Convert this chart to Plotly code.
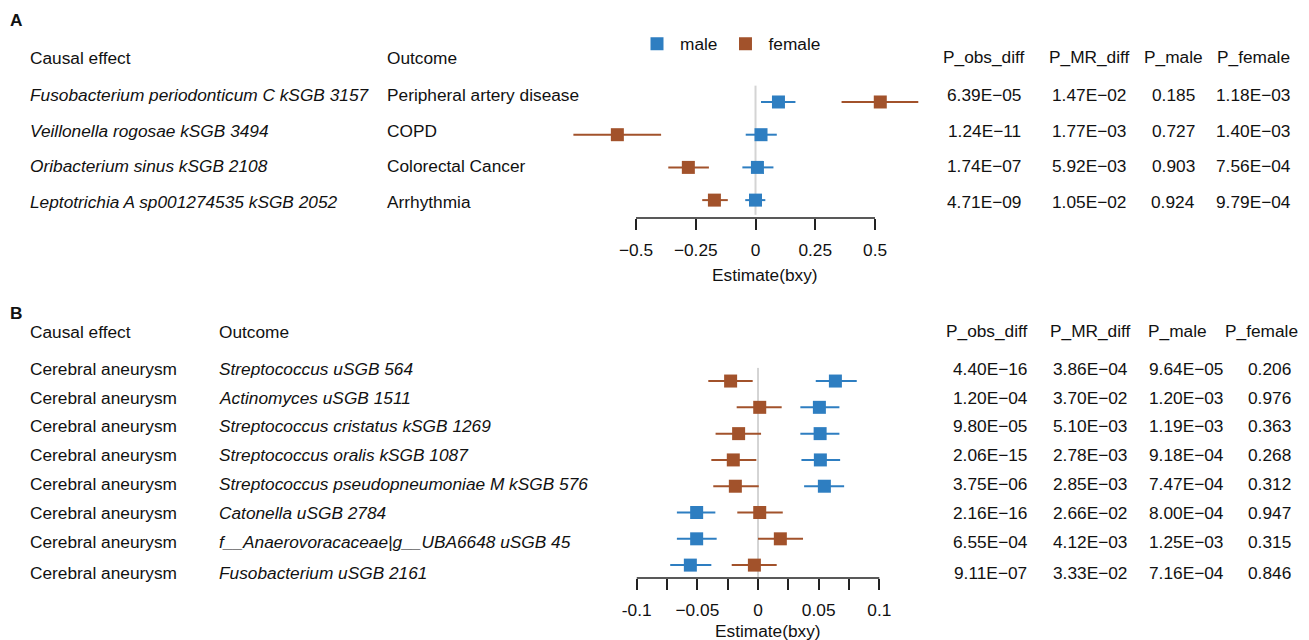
import plotly.graph_objects as go

# ---------------- Data: panel A ----------------
a_exposure = ["Fusobacterium periodonticum C kSGB 3157", "Veillonella rogosae kSGB 3494",
              "Oribacterium sinus kSGB 2108", "Leptotrichia A sp001274535 kSGB 2052"]
a_outcome = ["Peripheral artery disease", "COPD", "Colorectal Cancer", "Arrhythmia"]
a_male_est = [0.096, 0.023, 0.008, 0.000]
a_male_lo = [0.023, -0.041, -0.055, -0.043]
a_male_hi = [0.167, 0.089, 0.075, 0.041]
a_female_est = [0.522, -0.578, -0.281, -0.172]
a_female_lo = [0.360, -0.762, -0.365, -0.223]
a_female_hi = [0.681, -0.395, -0.195, -0.116]
a_p_obs_diff = ["6.39E−05", "1.24E−11", "1.74E−07", "4.71E−09"]
a_p_mr_diff = ["1.47E−02", "1.77E−03", "5.92E−03", "1.05E−02"]
a_p_male = ["0.185", "0.727", "0.903", "0.924"]
a_p_female = ["1.18E−03", "1.40E−03", "7.56E−04", "9.79E−04"]
a_tickvals = [-0.5, -0.25, 0, 0.25, 0.5]
a_ticktext = ["−0.5", "−0.25", "0", "0.25", "0.5"]

# ---------------- Data: panel B ----------------
b_exposure = ["Cerebral aneurysm"] * 8
b_outcome = ["Streptococcus uSGB 564", "Actinomyces uSGB 1511", "Streptococcus cristatus kSGB 1269",
             "Streptococcus oralis kSGB 1087", "Streptococcus pseudopneumoniae M kSGB 576",
             "Catonella uSGB 2784", "f__Anaerovoracaceae|g__UBA6648 uSGB 45", "Fusobacterium uSGB 2161"]
b_male_est = [0.0638, 0.0506, 0.0512, 0.0514, 0.0547, -0.0506, -0.0506, -0.0558]
b_male_lo = [0.0476, 0.0349, 0.0349, 0.0358, 0.0380, -0.0669, -0.0669, -0.0724]
b_male_hi = [0.0814, 0.0671, 0.0671, 0.0677, 0.0710, -0.0352, -0.0341, -0.0385]
b_female_est = [-0.0226, 0.0014, -0.0160, -0.0204, -0.0187, 0.0014, 0.0184, -0.0030]
b_female_lo = [-0.0410, -0.0176, -0.0350, -0.0385, -0.0369, -0.0171, 0.0000, -0.0217]
b_female_hi = [-0.0044, 0.0195, 0.0025, -0.0014, 0.0006, 0.0204, 0.0371, 0.0154]
b_p_obs_diff = ["4.40E−16", "1.20E−04", "9.80E−05", "2.06E−15", "3.75E−06", "2.16E−16", "6.55E−04", "9.11E−07"]
b_p_mr_diff = ["3.86E−04", "3.70E−02", "5.10E−03", "2.78E−03", "2.85E−03", "2.66E−02", "4.12E−03", "3.33E−02"]
b_p_male = ["9.64E−05", "1.20E−03", "1.19E−03", "9.18E−04", "7.47E−04", "8.00E−04", "1.25E−03", "7.16E−04"]
b_p_female = ["0.206", "0.976", "0.363", "0.268", "0.312", "0.947", "0.315", "0.846"]
b_tickvals = [-0.1, -0.075, -0.05, -0.025, 0, 0.025, 0.05, 0.075, 0.1]
b_ticktext = ["-0.1", "", "−0.05", "", "0", "", "0.05", "", "0.1"]

MALE = "#2E7EC1"
FEMALE = "#A2522B"
FONT = "Liberation Sans, Arial, sans-serif"
FS = 17.3
W, H = 1309, 640


def px(x):
    return x / W


def py(y):
    return 1 - y / H


fig = go.Figure()


def add_series(est, lo, hi, color, name, xa, ya, showlegend):
    rows = list(range(len(est)))
    fig.add_trace(go.Scatter(
        x=est, y=rows, mode="markers", name=name, showlegend=showlegend,
        marker=dict(symbol="square", size=13, color=color),
        error_x=dict(type="data", symmetric=False,
                     array=[h - e for h, e in zip(hi, est)],
                     arrayminus=[e - l for e, l in zip(est, lo)],
                     color=color, thickness=2, width=0),
        xaxis=xa, yaxis=ya, hoverinfo="x+name"))


add_series(a_male_est, a_male_lo, a_male_hi, MALE, "male", "x", "y", True)
add_series(a_female_est, a_female_lo, a_female_hi, FEMALE, "female", "x", "y", True)
add_series(b_male_est, b_male_lo, b_male_hi, MALE, "male", "x2", "y2", False)
add_series(b_female_est, b_female_lo, b_female_hi, FEMALE, "female", "x2", "y2", False)

xcommon = dict(showgrid=False, zeroline=False, showline=False, ticks="outside",
               ticklen=11, tickwidth=1.5, tickcolor="#222", ticklabelstandoff=5,
               tickfont=dict(size=FS, color="#111", family=FONT), fixedrange=True)
ycommon = dict(visible=False, showgrid=False, zeroline=False, fixedrange=True)

fig.update_layout(
    width=W, height=H, autosize=False,
    margin=dict(l=0, r=0, t=0, b=0),
    paper_bgcolor="white", plot_bgcolor="white",
    font=dict(family=FONT, size=FS, color="#111"),
    xaxis=dict(domain=[px(560), px(930)], range=[-0.818, 0.730],
               tickvals=a_tickvals, ticktext=a_ticktext, anchor="y", **xcommon),
    yaxis=dict(domain=[py(218), py(60)], range=[3.547, -1.284], anchor="x", **ycommon),
    xaxis2=dict(domain=[px(600), px(930)], range=[-0.1303, 0.1418],
                tickvals=b_tickvals, ticktext=b_ticktext, anchor="y2", **xcommon),
    yaxis2=dict(domain=[py(578), py(360)], range=[7.49, -0.8], anchor="x2", **ycommon),
    legend=dict(orientation="h", x=px(634), xanchor="left", y=py(44), yanchor="middle",
                font=dict(size=FS, family=FONT), bgcolor="rgba(0,0,0,0)",
                itemwidth=36, itemclick=False, itemdoubleclick=False),
)

shapes = []
for xa, ya, n, lo, hi in [("x", "y", 4, -0.5, 0.5), ("x2", "y2", 8, -0.1, 0.1)]:
    # zero reference line
    shapes.append(dict(type="line", xref=xa, yref=ya, x0=0, x1=0, y0=-0.5, y1=n - 0.55,
                       line=dict(color="#d4d4d4", width=2), layer="below"))
    # axis line limited to the tick span
    shapes.append(dict(type="line", xref=xa, yref=ya + " domain", x0=lo, x1=hi, y0=0, y1=0,
                       line=dict(color="#222", width=1.5)))
fig.update_layout(shapes=shapes)

ann = []


def text(x, y, s, anchor="left", size=FS, bold=False):
    if bold:
        s = "<b>" + s + "</b>"
    ann.append(dict(x=px(x), y=py(y), xref="paper", yref="paper", text=s, showarrow=False,
                    xanchor=anchor, yanchor="middle", font=dict(size=size, family=FONT, color="#111")))


# Panel labels
text(8, 20, "A", bold=True)
text(8, 313, "B", bold=True)

# Panel A table
text(28, 58, "Causal effect")
text(385, 58, "Outcome")
a_rows_y = [95, 131, 166, 202]
a_cols = [984, 1089, 1173, 1253]
for hdr, cx in zip(["P_obs_diff", "P_MR_diff", "P_male", "P_female"], a_cols):
    text(cx, 57, hdr, anchor="center")
for i, yy in enumerate(a_rows_y):
    text(28, yy, "<i>" + a_exposure[i] + "</i>")
    text(385, yy, a_outcome[i])
    for col, cx in zip([a_p_obs_diff, a_p_mr_diff, a_p_male, a_p_female], a_cols):
        text(cx, yy, col[i], anchor="center")
text(765, 275, "Estimate(bxy)", anchor="center")

# Panel B table
text(28, 332, "Causal effect")
text(217, 332, "Outcome")
b_rows_y = [369, 398, 426, 455, 484, 513, 542, 573]
b_hdr_cols = [987, 1090, 1177, 1261]
b_cols = [990, 1090, 1186, 1269]
for hdr, cx in zip(["P_obs_diff", "P_MR_diff", "P_male", "P_female"], b_hdr_cols):
    text(cx, 331, hdr, anchor="center")
for i, yy in enumerate(b_rows_y):
    text(28, yy, b_exposure[i])
    text(217, yy, "<i>" + b_outcome[i] + "</i>")
    for col, cx in zip([b_p_obs_diff, b_p_mr_diff, b_p_male, b_p_female], b_cols):
        text(cx, yy, col[i], anchor="center")
text(768, 631, "Estimate(bxy)", anchor="center")

fig.update_layout(annotations=ann)

fig.write_html("out.html", config={"displayModeBar": False},
               post_script="document.body.style.margin='0';document.body.style.overflow='hidden';")
